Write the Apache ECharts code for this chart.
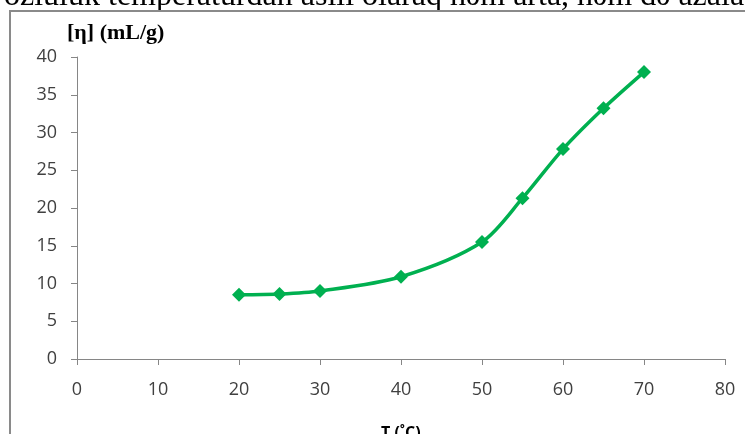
<!DOCTYPE html>
<html>
<head>
<meta charset="utf-8">
<script src="https://cdn.jsdelivr.net/npm/echarts@6/dist/echarts.min.js"></script>
<style>
  html, body { margin: 0; padding: 0; background: #fff; }
  #chart { width: 745px; height: 434px; }
</style>
</head>
<body>
<div id="chart"></div>
<script>
// Intrinsic viscosity vs temperature
const temperatures = [20, 25, 30, 40, 50, 55, 60, 65, 70];
const viscosity = [8.5, 8.6, 9.0, 10.9, 15.5, 21.3, 27.8, 33.2, 38.0];
const yTicks = { min: 0, max: 40, interval: 5 };
const xTicks = { min: 0, max: 80, interval: 10 };

const points = temperatures.map((t, i) => [t, viscosity[i]]);

const chart = echarts.init(document.getElementById('chart'), null, { renderer: 'canvas' });

chart.setOption({
  animation: false,
  backgroundColor: '#ffffff',
  grid: { left: 77, right: 20, top: 57, bottom: 75, containLabel: false },
  graphic: [
    {
      type: 'text',
      left: 4,
      top: -19,
      style: {
        text: 'özlülük temperaturdan asılı olaraq həm arta, həm də azala bilər',
        fontSize: 32,
        fontFamily: '"Liberation Serif", "Times New Roman", serif',
        fill: '#000'
      },
      silent: true
    },
    {
      type: 'polyline',
      shape: { points: [[10, 434], [10, 11], [745, 11]] },
      style: { stroke: '#8a8a8a', lineWidth: 2, fill: null },
      silent: true
    },
    {
      type: 'text',
      left: 67,
      top: 22,
      style: {
        text: '[η] (mL/g)',
        fontSize: 22,
        fontWeight: 'bold',
        fontFamily: '"Liberation Serif", "Times New Roman", serif',
        fill: '#000'
      },
      silent: true
    },
    {
      type: 'text',
      left: 381,
      top: 425,
      style: {
        text: 'T (˚C)',
        fontSize: 16,
        fontWeight: 'bold',
        fontFamily: '"Open Sans", sans-serif',
        fill: '#000'
      },
      silent: true
    }
  ],
  xAxis: {
    type: 'value',
    min: xTicks.min,
    max: xTicks.max,
    interval: xTicks.interval,
    splitLine: { show: false },
    axisLine: { show: true, onZero: false, lineStyle: { color: '#868686', width: 1 } },
    axisTick: { show: true, length: 6, lineStyle: { color: '#868686' } },
    axisLabel: { color: '#404040', fontSize: 18, fontFamily: '"Open Sans", sans-serif', margin: 22 }
  },
  yAxis: {
    type: 'value',
    min: yTicks.min,
    max: yTicks.max,
    interval: yTicks.interval,
    splitLine: { show: false },
    axisLine: { show: true, lineStyle: { color: '#868686', width: 1 } },
    axisTick: { show: true, length: 6, lineStyle: { color: '#868686' } },
    axisLabel: { color: '#404040', fontSize: 18, fontFamily: '"Open Sans", sans-serif', margin: 20 }
  },
  series: [{
    type: 'line',
    data: points,
    smooth: 0.3,
    symbol: 'diamond',
    symbolSize: 14,
    lineStyle: { color: '#00b050', width: 3.5 },
    itemStyle: { color: '#00b050' }
  }]
});
</script>
</body>
</html>
